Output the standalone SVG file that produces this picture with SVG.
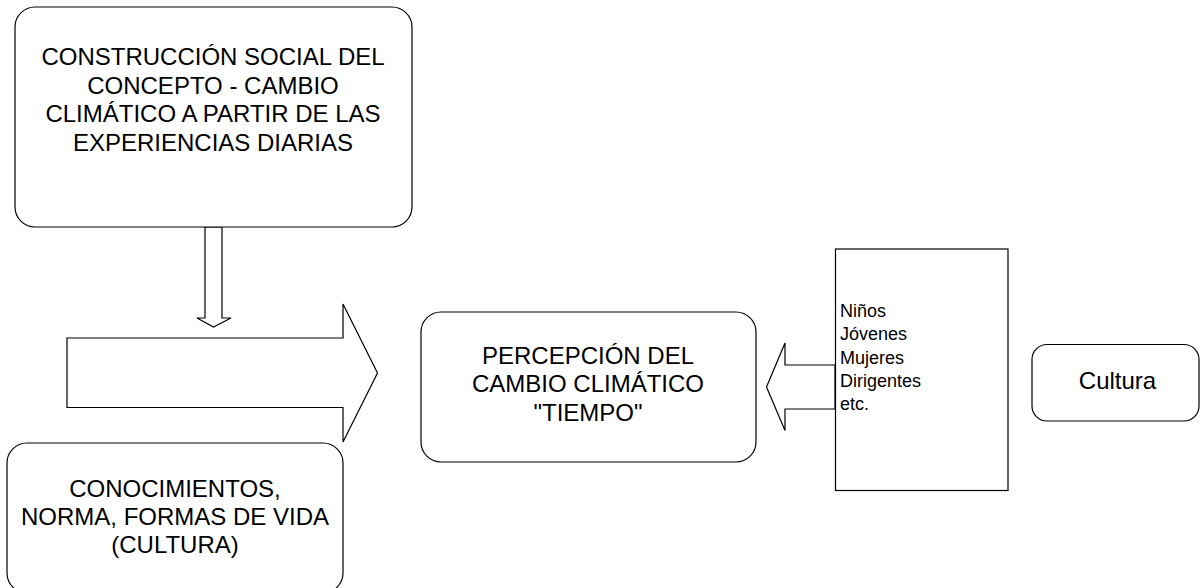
<svg xmlns="http://www.w3.org/2000/svg" width="1200" height="588" viewBox="0 0 1200 588">
<style>
.shape{fill:#fff;stroke:#000;stroke-width:1.2}
.t{font-family:"Liberation Sans",Arial,sans-serif;font-size:24px;fill:#000;text-anchor:middle}
.s{font-family:"Liberation Sans",Arial,sans-serif;font-size:18px;fill:#000}
</style>
<rect width="1200" height="588" fill="#fff"/>
<g id="connectors">
<polygon class="shape" points="205,227 222,227 222,318 231,318 213.5,327 197,318 205,318"/>
<polygon class="shape" points="67,338 343,338 343,304 377.5,373 343,442 343,407.5 67,407.5"/>
<polygon class="shape" points="835,365 785,365 785,343 766.5,387 785,430.5 785,409 835,409"/>
</g>
<g id="node-construccion">
<rect class="shape" x="15" y="7" width="397" height="220" rx="20"/>
<text class="t" x="213" y="65">CONSTRUCCIÓN SOCIAL DEL</text>
<text class="t" x="213" y="93.5">CONCEPTO - CAMBIO</text>
<text class="t" x="213" y="122">CLIMÁTICO A PARTIR DE LAS</text>
<text class="t" x="213" y="150.5">EXPERIENCIAS DIARIAS</text>
</g>
<g id="node-conocimientos">
<rect class="shape" x="7" y="443" width="336" height="150" rx="20"/>
<text class="t" x="175" y="497">CONOCIMIENTOS,</text>
<text class="t" x="175" y="525">NORMA, FORMAS DE VIDA</text>
<text class="t" x="175" y="553">(CULTURA)</text>
</g>
<g id="node-percepcion">
<rect class="shape" x="421" y="312" width="335" height="150" rx="20"/>
<text class="t" x="588" y="364">PERCEPCIÓN DEL</text>
<text class="t" x="588" y="392">CAMBIO CLIMÁTICO</text>
<text class="t" x="588" y="420.5">"TIEMPO"</text>
</g>
<g id="node-grupos">
<rect class="shape" x="835.5" y="249" width="172.5" height="241.5"/>
<text class="s" x="840" y="316.5">Niños</text>
<text class="s" x="840" y="340">Jóvenes</text>
<text class="s" x="840" y="363.5">Mujeres</text>
<text class="s" x="840" y="387">Dirigentes</text>
<text class="s" x="840" y="410">etc.</text>
</g>
<g id="node-cultura">
<rect class="shape" x="1032" y="344.5" width="167" height="76.5" rx="15"/>
<text class="t" x="1117.5" y="389">Cultura</text>
</g>
</svg>
